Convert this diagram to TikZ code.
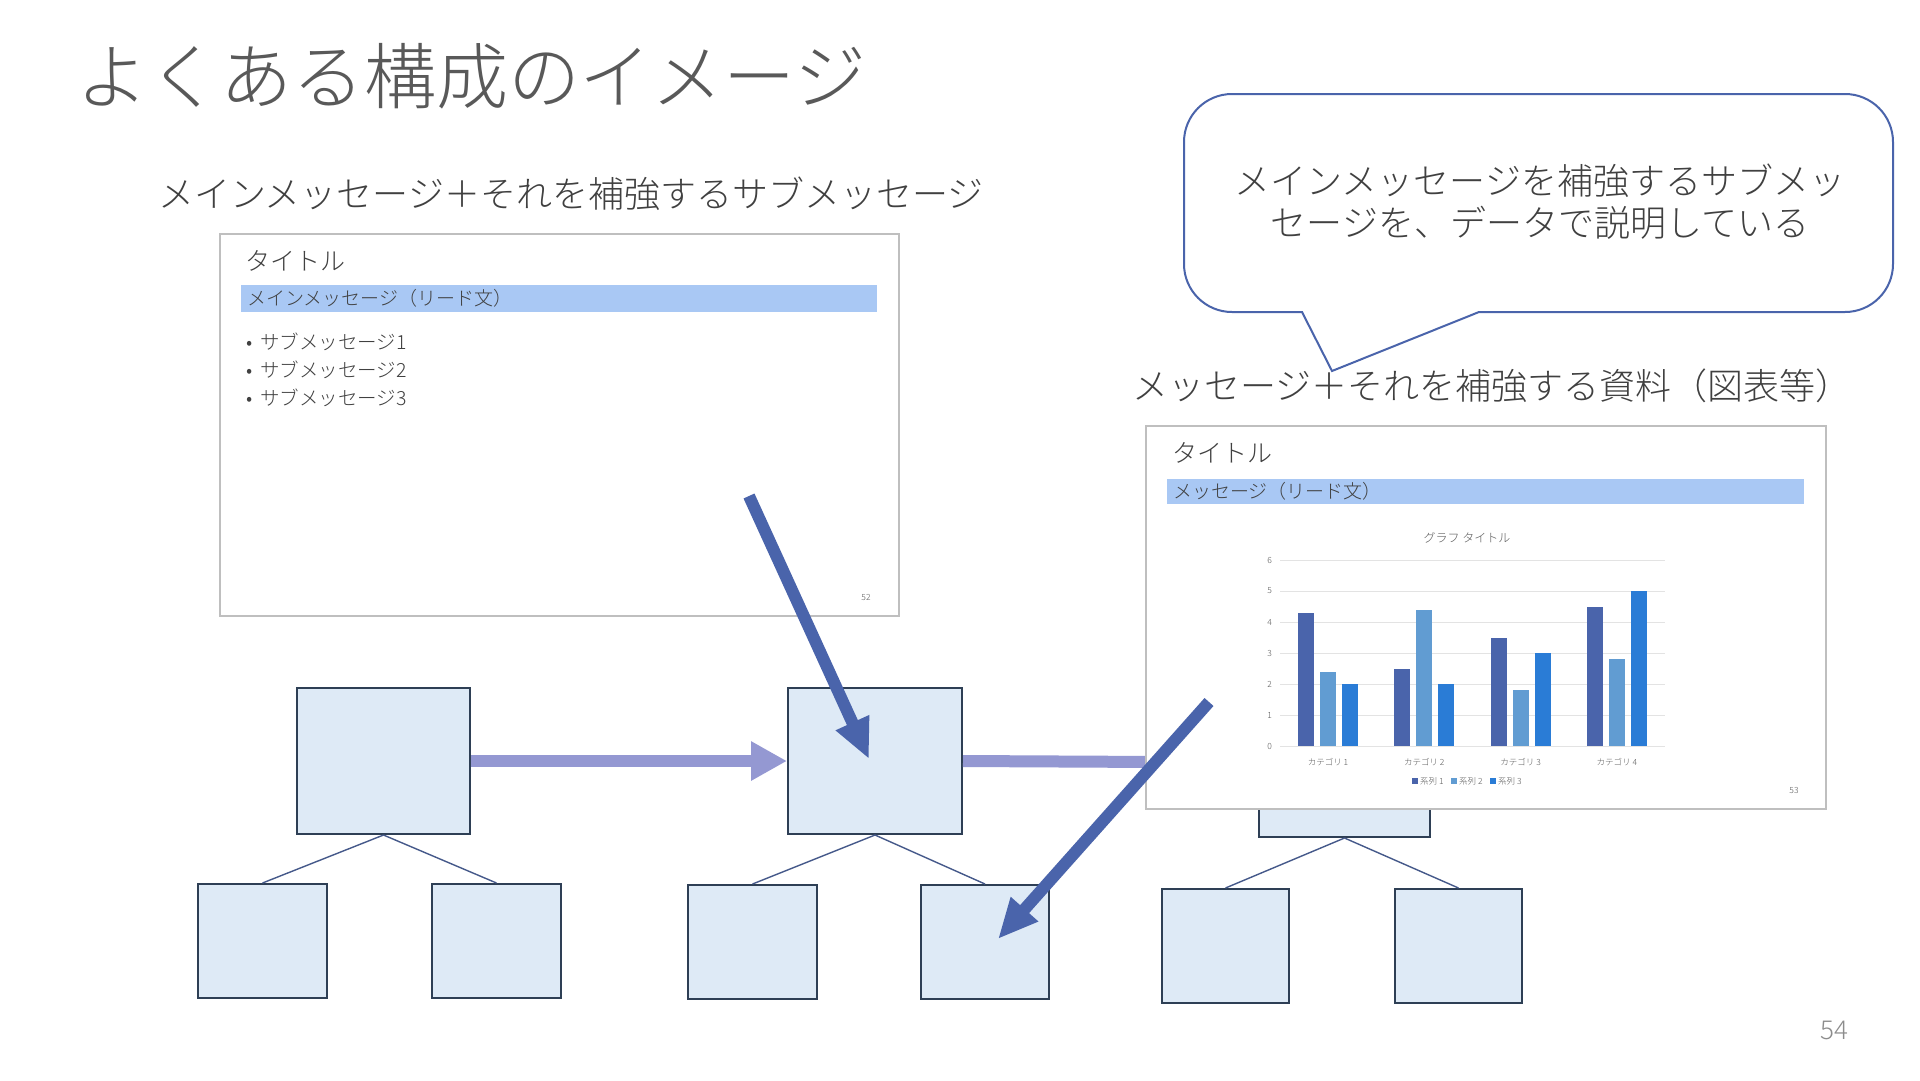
\documentclass[tikz,border=0pt]{standalone}
\usepackage{fontspec}
\setmainfont{Noto Sans CJK JP}[UprightFont={* Light}]
\usetikzlibrary{arrows.meta}
\definecolor{titlegray}{HTML}{595959}
\definecolor{txt}{HTML}{404040}
\definecolor{pagegray}{HTML}{8C8C8C}
\definecolor{slideborder}{HTML}{BFBFBF}
\definecolor{leadbar}{HTML}{A9C8F4}
\definecolor{boxfill}{HTML}{DEEAF6}
\definecolor{boxline}{HTML}{2E3F55}
\definecolor{treeline}{HTML}{45598A}
\definecolor{lavender}{HTML}{9498D2}
\definecolor{darkblue}{HTML}{4A64AB}
\definecolor{sone}{HTML}{4A64AB}
\definecolor{stwo}{HTML}{619CD2}
\definecolor{sthree}{HTML}{2A7CD6}
\definecolor{gridc}{HTML}{E3E3E3}
\begin{document}
\begin{tikzpicture}[x=1pt,y=-1pt,
  txtnode/.style={inner sep=0pt, outer sep=0pt, text=txt},
  treebox/.style={draw=boxline, fill=boxfill, line width=2pt, inner sep=0pt, anchor=north west},
  slidebox/.style={draw=slideborder, fill=white, line width=1.5pt, inner sep=0pt, anchor=north west},
  treelink/.style={draw=treeline, line width=1.4pt},
  flowarrow/.style={draw=lavender, line width=12pt, -{Triangle[width=37pt,length=36pt]}},
  pointarrow/.style={draw=darkblue, line width=12pt, -{Triangle[width=34pt,length=40pt]}},
  axlabel/.style={inner sep=0pt, text=titlegray, font=\fontsize{8.5}{10}\selectfont},
  calloutline/.style={draw=darkblue, line width=2pt, fill=white}
]
\useasboundingbox[fill=white] (0,0) rectangle (1920,1080);

% title
\node[txtnode, anchor=west, text=titlegray, font=\fontsize{72}{80}\selectfont] (title) at (76,76) {よくある構成のイメージ};

% subtitle 1
\node[txtnode, anchor=west, font=\fontsize{36}{40}\selectfont] (sub1) at (158,194) {メインメッセージ＋それを補強するサブメッセージ};

% slide 1 thumbnail
\node[slidebox, minimum width=679pt, minimum height=382pt] (slideone) at (219,233) {};
\node[txtnode, anchor=west, font=\fontsize{25}{28}\selectfont] (soneTitle) at (245,261) {タイトル};
\fill[leadbar] (241,285) rectangle (877,312);
\node[txtnode, anchor=west, font=\fontsize{19}{22}\selectfont] (soneLead) at (247,298) {メインメッセージ（リード文）};
\node[txtnode, anchor=west, font=\fontsize{19.5}{22}\selectfont] (sb1) at (246,342) {•\hspace{8pt}サブメッセージ1};
\node[txtnode, anchor=west, font=\fontsize{19.5}{22}\selectfont] (sb2) at (246,370) {•\hspace{8pt}サブメッセージ2};
\node[txtnode, anchor=west, font=\fontsize{19.5}{22}\selectfont] (sb3) at (246,398) {•\hspace{8pt}サブメッセージ3};
\node[axlabel] (pg52) at (866,597) {52};

% tree boxes
\node[treebox, minimum width=173pt, minimum height=146pt] (A) at (296,687) {};
\node[treebox, minimum width=129pt, minimum height=114pt] (A1) at (197,883) {};
\node[treebox, minimum width=129pt, minimum height=114pt] (A2) at (431,883) {};
\node[treebox, minimum width=174pt, minimum height=146pt] (B) at (787,687) {};
\node[treebox, minimum width=129pt, minimum height=114pt] (B1) at (687,884) {};
\node[treebox, minimum width=128pt, minimum height=114pt] (B2) at (920,884) {};
\node[treebox, minimum width=171pt, minimum height=149pt] (C) at (1258,687) {};
\node[treebox, minimum width=127pt, minimum height=114pt] (C1) at (1161,888) {};
\node[treebox, minimum width=127pt, minimum height=114pt] (C2) at (1394,888) {};

\draw[treelink] (A.south) -- (A1.north);
\draw[treelink] (A.south) -- (A2.north);
\draw[treelink] (B.south) -- (B1.north);
\draw[treelink] (B.south) -- (B2.north);
\draw[treelink] (C.south) -- (C1.north);
\draw[treelink] (C.south) -- (C2.north);

% flow arrows
\draw[flowarrow] (A.east) -- (B.west);
\draw[flowarrow] (B.east) -- (C.west);

% callout
\draw[calloutline] (1302,312) [rounded corners=48pt] -- (1184,312) -- (1184,94) -- (1893,94) -- (1893,312) [sharp corners] -- (1479,312) -- (1332,371) -- cycle;
\node[txtnode, align=center, font=\fontsize{36}{42}\selectfont] (callouttext) at (1540,202) {メインメッセージを補強するサブメッ\\セージを、データで説明している};

% subtitle 2
\node[txtnode, anchor=west, font=\fontsize{36}{40}\selectfont] (sub2) at (1132,386) {メッセージ＋それを補強する資料（図表等）};

% slide 2 thumbnail
\node[slidebox, minimum width=680pt, minimum height=383pt] (slidetwo) at (1145,425) {};
\node[txtnode, anchor=west, font=\fontsize{25}{28}\selectfont] (stwoTitle) at (1172,453) {タイトル};
\fill[leadbar] (1167,479) rectangle (1804,504);
\node[txtnode, anchor=west, font=\fontsize{19}{22}\selectfont] (stwoLead) at (1173,491) {メッセージ（リード文）};
\node[inner sep=0pt, text=titlegray, font=\fontsize{12}{14}\selectfont] (charttitle) at (1467,538) {グラフ タイトル};
\foreach \v in {0,...,6} {
  \draw[gridc, line width=1pt] (1280,{746-31*\v}) -- (1665,{746-31*\v});
  \node[axlabel, anchor=east] at (1272,{746-31*\v}) {\v};
}
\foreach \a/\b/\d [count=\n from 0] in {4.3/2.4/2.0, 2.5/4.4/2.0, 3.5/1.8/3.0, 4.5/2.8/5.0} {
  \pgfmathsetmacro\cx{1328+96.3*\n}
  \fill[sone] ({\cx-30},746) rectangle ({\cx-14},{746-31*\a});
  \fill[stwo] ({\cx-8},746) rectangle ({\cx+8},{746-31*\b});
  \fill[sthree] ({\cx+14},746) rectangle ({\cx+30},{746-31*\d});
  \pgfmathtruncatemacro\k{\n+1}
  \node[axlabel] at (\cx,762) {カテゴリ \k};
}
\fill[sone] (1412,778) rectangle (1418,784);
\node[axlabel, anchor=west] at (1420,781) {系列 1};
\fill[stwo] (1451,778) rectangle (1457,784);
\node[axlabel, anchor=west] at (1459,781) {系列 2};
\fill[sthree] (1490,778) rectangle (1496,784);
\node[axlabel, anchor=west] at (1498,781) {系列 3};
\node[axlabel] (pg53) at (1794,790) {53};

% pointer arrows
\coordinate (d1s) at (749,496);
\coordinate (d1e) at (869,759);
\coordinate (d2s) at (1209,702);
\coordinate (d2e) at (998,939);
\draw[pointarrow] (d1s) -- (d1e);
\draw[pointarrow] (d2s) -- (d2e);

% page number
\node[inner sep=0pt, text=pagegray, font=\fontsize{26}{30}\selectfont] (pagenum) at (1834,1030) {54};
\end{tikzpicture}
\end{document}
